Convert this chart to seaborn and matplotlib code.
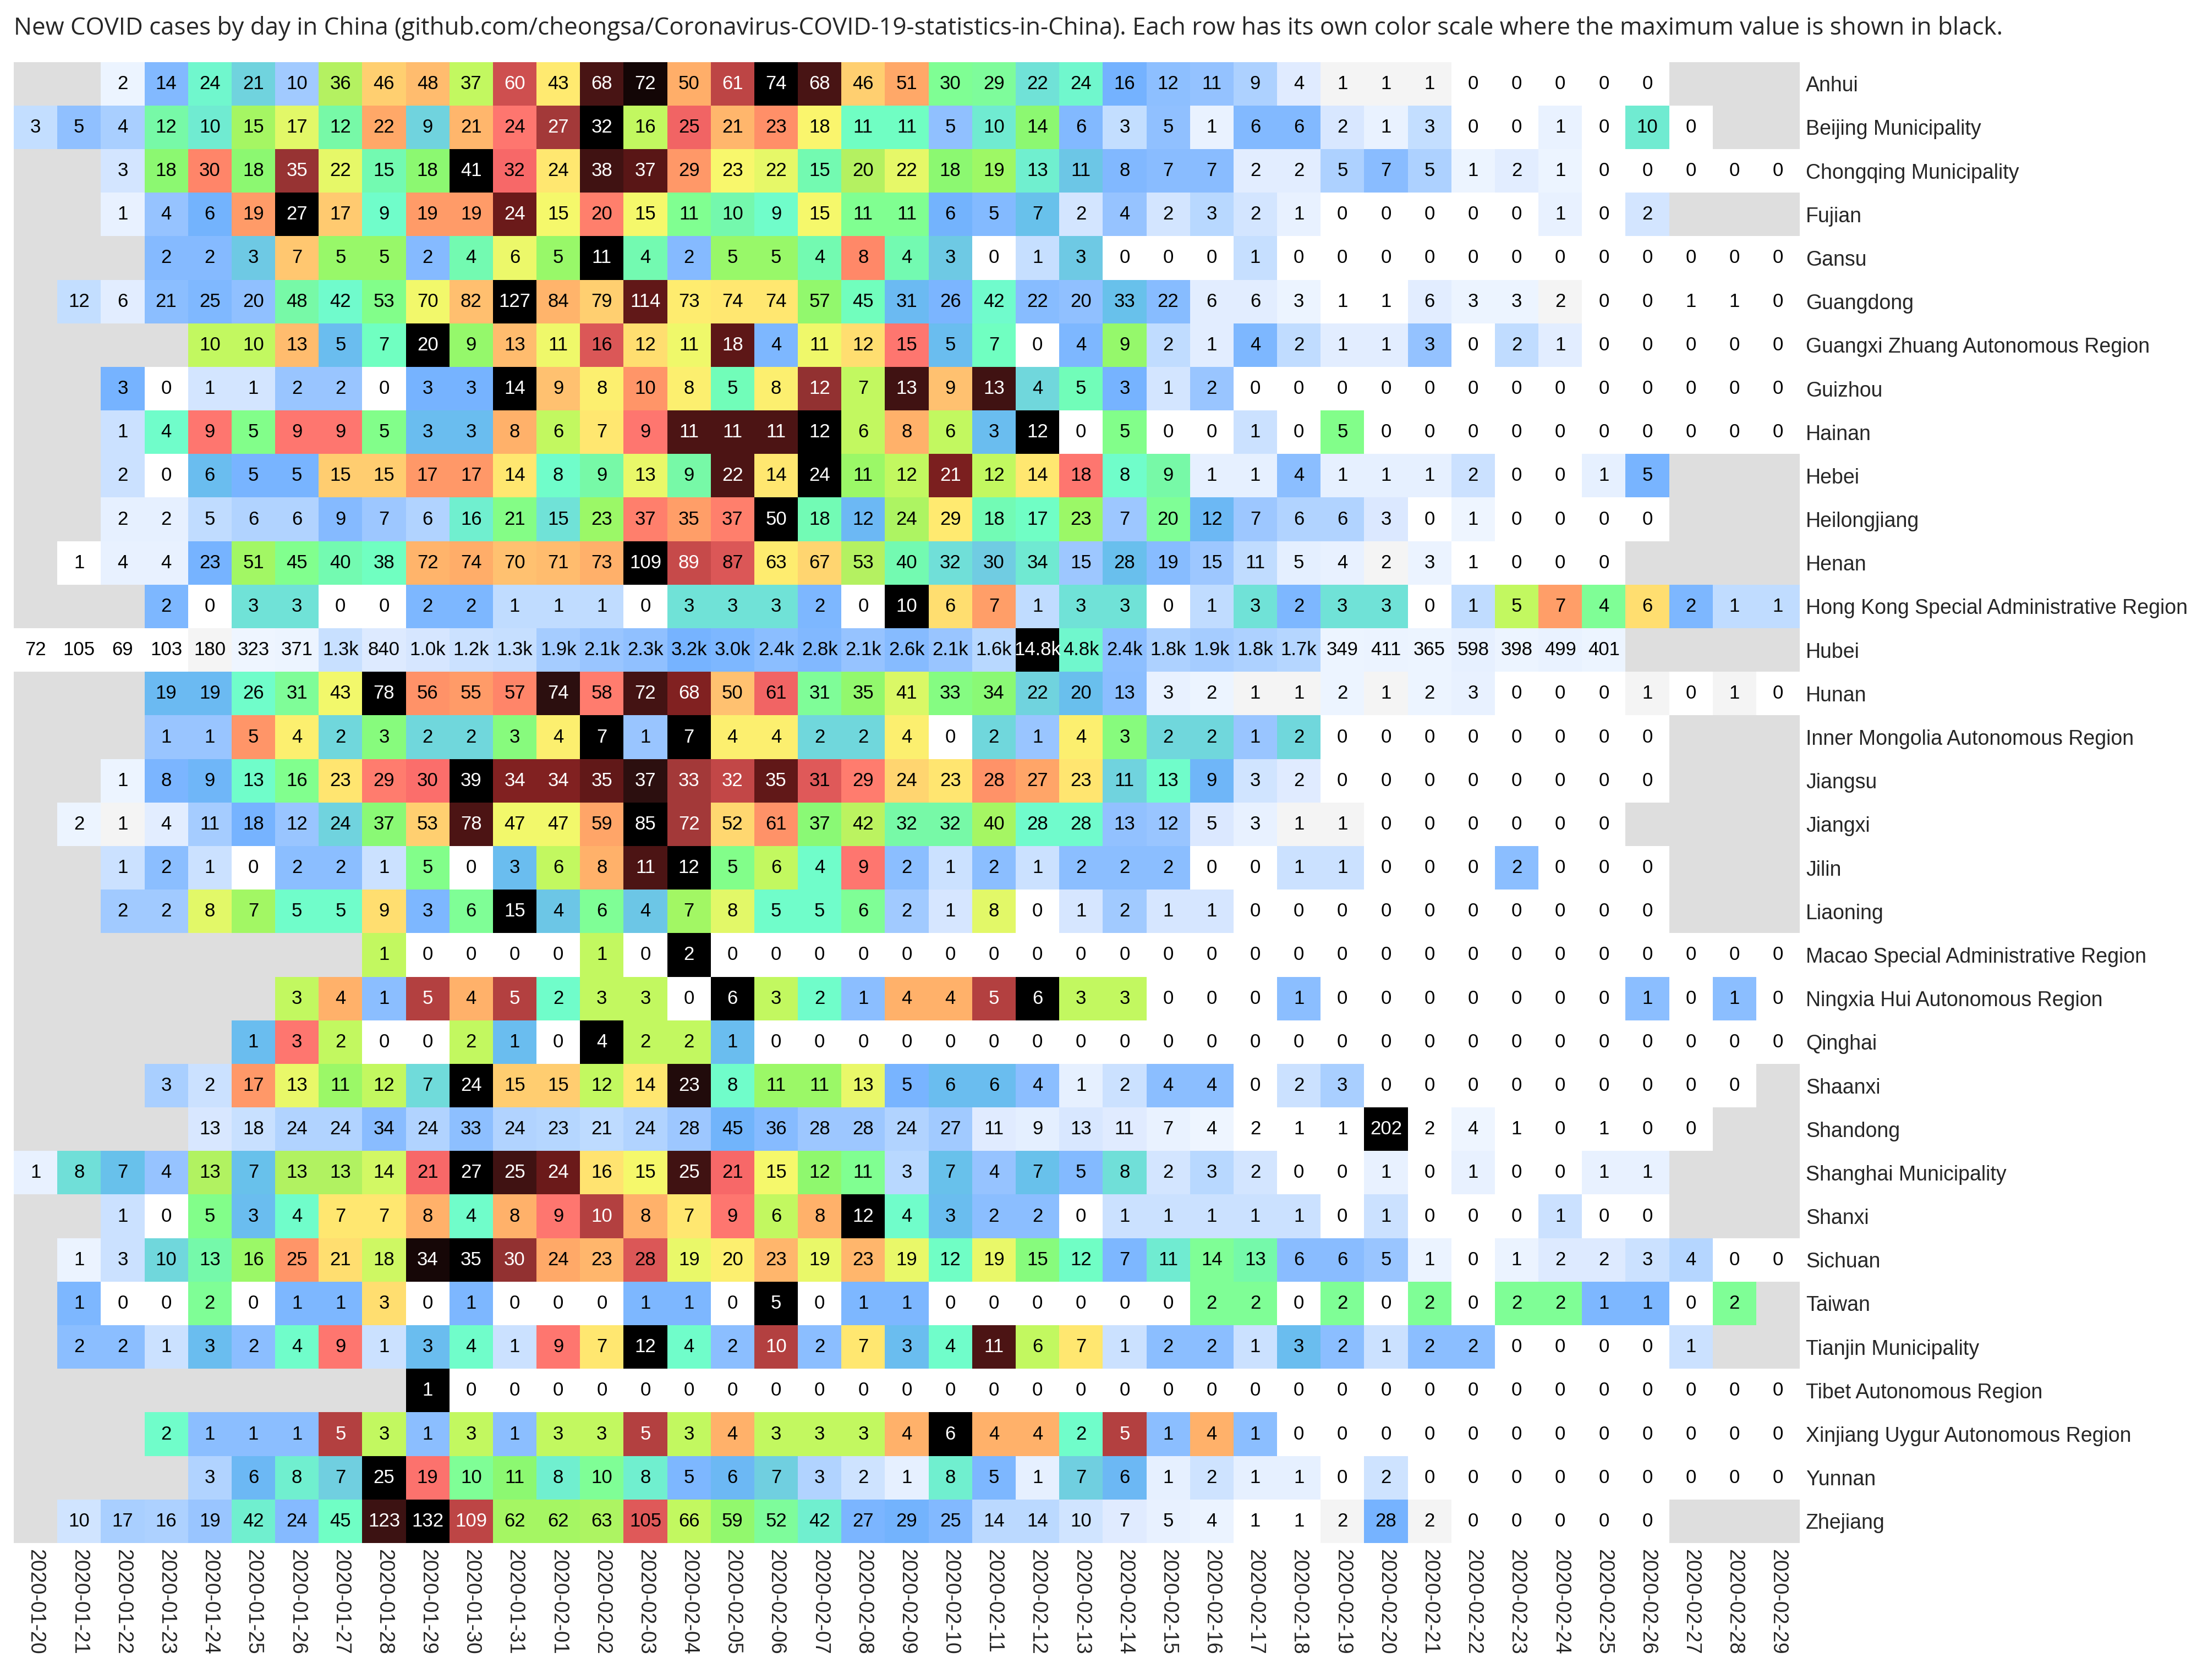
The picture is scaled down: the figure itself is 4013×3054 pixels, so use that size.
import numpy as np
import pandas as pd
import matplotlib
matplotlib.use("Agg")
import matplotlib.pyplot as plt
import seaborn as sns
from matplotlib.colors import LinearSegmentedColormap

N = None  # no report for that day

dates = [d.strftime("%Y-%m-%d") for d in pd.date_range("2020-01-20", "2020-02-29")]

provinces = [
    "Anhui", "Beijing Municipality", "Chongqing Municipality", "Fujian", "Gansu",
    "Guangdong", "Guangxi Zhuang Autonomous Region", "Guizhou", "Hainan", "Hebei",
    "Heilongjiang", "Henan", "Hong Kong Special Administrative Region", "Hubei", "Hunan",
    "Inner Mongolia Autonomous Region", "Jiangsu", "Jiangxi", "Jilin", "Liaoning",
    "Macao Special Administrative Region", "Ningxia Hui Autonomous Region", "Qinghai",
    "Shaanxi", "Shandong", "Shanghai Municipality", "Shanxi", "Sichuan", "Taiwan",
    "Tianjin Municipality", "Tibet Autonomous Region", "Xinjiang Uygur Autonomous Region",
    "Yunnan", "Zhejiang",
]

# daily new cases, 2020-01-20 .. 2020-02-29
anhui = [N, N, 2, 14, 24, 21, 10, 36, 46, 48, 37, 60, 43, 68, 72, 50, 61, 74, 68, 46, 51,
         30, 29, 22, 24, 16, 12, 11, 9, 4, 1, 1, 1, 0, 0, 0, 0, 0, N, N, N]
beijing = [3, 5, 4, 12, 10, 15, 17, 12, 22, 9, 21, 24, 27, 32, 16, 25, 21, 23, 18, 11, 11,
           5, 10, 14, 6, 3, 5, 1, 6, 6, 2, 1, 3, 0, 0, 1, 0, 10, 0, N, N]
chongqing = [N, N, 3, 18, 30, 18, 35, 22, 15, 18, 41, 32, 24, 38, 37, 29, 23, 22, 15, 20, 22,
             18, 19, 13, 11, 8, 7, 7, 2, 2, 5, 7, 5, 1, 2, 1, 0, 0, 0, 0, 0]
fujian = [N, N, 1, 4, 6, 19, 27, 17, 9, 19, 19, 24, 15, 20, 15, 11, 10, 9, 15, 11, 11,
          6, 5, 7, 2, 4, 2, 3, 2, 1, 0, 0, 0, 0, 0, 1, 0, 2, N, N, N]
gansu = [N, N, N, 2, 2, 3, 7, 5, 5, 2, 4, 6, 5, 11, 4, 2, 5, 5, 4, 8, 4,
         3, 0, 1, 3, 0, 0, 0, 1, 0, 0, 0, 0, 0, 0, 0, 0, 0, 0, 0, 0]
guangdong = [N, 12, 6, 21, 25, 20, 48, 42, 53, 70, 82, 127, 84, 79, 114, 73, 74, 74, 57, 45, 31,
             26, 42, 22, 20, 33, 22, 6, 6, 3, 1, 1, 6, 3, 3, 2, 0, 0, 1, 1, 0]
guangxi = [N, N, N, N, 10, 10, 13, 5, 7, 20, 9, 13, 11, 16, 12, 11, 18, 4, 11, 12, 15,
           5, 7, 0, 4, 9, 2, 1, 4, 2, 1, 1, 3, 0, 2, 1, 0, 0, 0, 0, 0]
guizhou = [N, N, 3, 0, 1, 1, 2, 2, 0, 3, 3, 14, 9, 8, 10, 8, 5, 8, 12, 7, 13,
           9, 13, 4, 5, 3, 1, 2, 0, 0, 0, 0, 0, 0, 0, 0, 0, 0, 0, 0, 0]
hainan = [N, N, 1, 4, 9, 5, 9, 9, 5, 3, 3, 8, 6, 7, 9, 11, 11, 11, 12, 6, 8,
          6, 3, 12, 0, 5, 0, 0, 1, 0, 5, 0, 0, 0, 0, 0, 0, 0, 0, 0, 0]
hebei = [N, N, 2, 0, 6, 5, 5, 15, 15, 17, 17, 14, 8, 9, 13, 9, 22, 14, 24, 11, 12,
         21, 12, 14, 18, 8, 9, 1, 1, 4, 1, 1, 1, 2, 0, 0, 1, 5, N, N, N]
heilongjiang = [N, N, 2, 2, 5, 6, 6, 9, 7, 6, 16, 21, 15, 23, 37, 35, 37, 50, 18, 12, 24,
                29, 18, 17, 23, 7, 20, 12, 7, 6, 6, 3, 0, 1, 0, 0, 0, 0, N, N, N]
henan = [N, 1, 4, 4, 23, 51, 45, 40, 38, 72, 74, 70, 71, 73, 109, 89, 87, 63, 67, 53, 40,
         32, 30, 34, 15, 28, 19, 15, 11, 5, 4, 2, 3, 1, 0, 0, 0, N, N, N, N]
hong_kong = [N, N, N, 2, 0, 3, 3, 0, 0, 2, 2, 1, 1, 1, 0, 3, 3, 3, 2, 0, 10,
             6, 7, 1, 3, 3, 0, 1, 3, 2, 3, 3, 0, 1, 5, 7, 4, 6, 2, 1, 1]
hubei = [72, 105, 69, 103, 180, 323, 371, 1291, 840, 1032, 1220, 1347, 1921, 2103, 2345,
         3156, 2987, 2447, 2841, 2147, 2618, 2097, 1638, 14840, 4823, 2420, 1843, 1933,
         1807, 1693, 349, 411, 365, 598, 398, 499, 401, N, N, N, N]
hunan = [N, N, N, 19, 19, 26, 31, 43, 78, 56, 55, 57, 74, 58, 72, 68, 50, 61, 31, 35, 41,
         33, 34, 22, 20, 13, 3, 2, 1, 1, 2, 1, 2, 3, 0, 0, 0, 1, 0, 1, 0]
inner_mongolia = [N, N, N, 1, 1, 5, 4, 2, 3, 2, 2, 3, 4, 7, 1, 7, 4, 4, 2, 2, 4,
                  0, 2, 1, 4, 3, 2, 2, 1, 2, 0, 0, 0, 0, 0, 0, 0, 0, N, N, N]
jiangsu = [N, N, 1, 8, 9, 13, 16, 23, 29, 30, 39, 34, 34, 35, 37, 33, 32, 35, 31, 29, 24,
           23, 28, 27, 23, 11, 13, 9, 3, 2, 0, 0, 0, 0, 0, 0, 0, 0, N, N, N]
jiangxi = [N, 2, 1, 4, 11, 18, 12, 24, 37, 53, 78, 47, 47, 59, 85, 72, 52, 61, 37, 42, 32,
           32, 40, 28, 28, 13, 12, 5, 3, 1, 1, 0, 0, 0, 0, 0, 0, N, N, N, N]
jilin = [N, N, 1, 2, 1, 0, 2, 2, 1, 5, 0, 3, 6, 8, 11, 12, 5, 6, 4, 9, 2,
         1, 2, 1, 2, 2, 2, 0, 0, 1, 1, 0, 0, 0, 2, 0, 0, 0, N, N, N]
liaoning = [N, N, 2, 2, 8, 7, 5, 5, 9, 3, 6, 15, 4, 6, 4, 7, 8, 5, 5, 6, 2,
            1, 8, 0, 1, 2, 1, 1, 0, 0, 0, 0, 0, 0, 0, 0, 0, 0, N, N, N]
macao = [N, N, N, N, N, N, N, N, 1, 0, 0, 0, 0, 1, 0, 2, 0, 0, 0, 0, 0,
         0, 0, 0, 0, 0, 0, 0, 0, 0, 0, 0, 0, 0, 0, 0, 0, 0, 0, 0, 0]
ningxia = [N, N, N, N, N, N, 3, 4, 1, 5, 4, 5, 2, 3, 3, 0, 6, 3, 2, 1, 4,
           4, 5, 6, 3, 3, 0, 0, 0, 1, 0, 0, 0, 0, 0, 0, 0, 1, 0, 1, 0]
qinghai = [N, N, N, N, N, 1, 3, 2, 0, 0, 2, 1, 0, 4, 2, 2, 1, 0, 0, 0, 0,
           0, 0, 0, 0, 0, 0, 0, 0, 0, 0, 0, 0, 0, 0, 0, 0, 0, 0, 0, 0]
shaanxi = [N, N, N, 3, 2, 17, 13, 11, 12, 7, 24, 15, 15, 12, 14, 23, 8, 11, 11, 13, 5,
           6, 6, 4, 1, 2, 4, 4, 0, 2, 3, 0, 0, 0, 0, 0, 0, 0, 0, 0, N]
shandong = [N, N, N, N, 13, 18, 24, 24, 34, 24, 33, 24, 23, 21, 24, 28, 45, 36, 28, 28, 24,
            27, 11, 9, 13, 11, 7, 4, 2, 1, 1, 202, 2, 4, 1, 0, 1, 0, 0, N, N]
shanghai = [1, 8, 7, 4, 13, 7, 13, 13, 14, 21, 27, 25, 24, 16, 15, 25, 21, 15, 12, 11, 3,
            7, 4, 7, 5, 8, 2, 3, 2, 0, 0, 1, 0, 1, 0, 0, 1, 1, N, N, N]
shanxi = [N, N, 1, 0, 5, 3, 4, 7, 7, 8, 4, 8, 9, 10, 8, 7, 9, 6, 8, 12, 4,
          3, 2, 2, 0, 1, 1, 1, 1, 1, 0, 1, 0, 0, 0, 1, 0, 0, N, N, N]
sichuan = [N, 1, 3, 10, 13, 16, 25, 21, 18, 34, 35, 30, 24, 23, 28, 19, 20, 23, 19, 23, 19,
           12, 19, 15, 12, 7, 11, 14, 13, 6, 6, 5, 1, 0, 1, 2, 2, 3, 4, 0, 0]
taiwan = [N, 1, 0, 0, 2, 0, 1, 1, 3, 0, 1, 0, 0, 0, 1, 1, 0, 5, 0, 1, 1,
          0, 0, 0, 0, 0, 0, 2, 2, 0, 2, 0, 2, 0, 2, 2, 1, 1, 0, 2, N]
tianjin = [N, 2, 2, 1, 3, 2, 4, 9, 1, 3, 4, 1, 9, 7, 12, 4, 2, 10, 2, 7, 3,
           4, 11, 6, 7, 1, 2, 2, 1, 3, 2, 1, 2, 2, 0, 0, 0, 0, 1, N, N]
tibet = [N, N, N, N, N, N, N, N, N, 1, 0, 0, 0, 0, 0, 0, 0, 0, 0, 0, 0,
         0, 0, 0, 0, 0, 0, 0, 0, 0, 0, 0, 0, 0, 0, 0, 0, 0, 0, 0, 0]
xinjiang = [N, N, N, 2, 1, 1, 1, 5, 3, 1, 3, 1, 3, 3, 5, 3, 4, 3, 3, 3, 4,
            6, 4, 4, 2, 5, 1, 4, 1, 0, 0, 0, 0, 0, 0, 0, 0, 0, 0, 0, 0]
yunnan = [N, N, N, N, 3, 6, 8, 7, 25, 19, 10, 11, 8, 10, 8, 5, 6, 7, 3, 2, 1,
          8, 5, 1, 7, 6, 1, 2, 1, 1, 0, 2, 0, 0, 0, 0, 0, 0, 0, 0, 0]
zhejiang = [N, 10, 17, 16, 19, 42, 24, 45, 123, 132, 109, 62, 62, 63, 105, 66, 59, 52, 42, 27, 29,
            25, 14, 14, 10, 7, 5, 4, 1, 1, 2, 28, 2, 0, 0, 0, 0, 0, N, N, N]

rows = [anhui, beijing, chongqing, fujian, gansu, guangdong, guangxi, guizhou, hainan, hebei,
        heilongjiang, henan, hong_kong, hubei, hunan, inner_mongolia, jiangsu, jiangxi, jilin,
        liaoning, macao, ningxia, qinghai, shaanxi, shandong, shanghai, shanxi, sichuan, taiwan,
        tianjin, tibet, xinjiang, yunnan, zhejiang]

title = ("New COVID cases by day in China (github.com/cheongsa/Coronavirus-COVID-19-statistics-in-China). "
         "Each row has its own color scale where the maximum value is shown in black.")

# white -> blues -> aqua -> green -> yellow -> orange -> red -> black
cmap = LinearSegmentedColormap.from_list("row_scale", [
    (0.0, "#ffffff"), (0.0095, "#ffffff"), (0.0100, "#f4f4f4"), (0.019, "#f4f4f4"),
    (0.0195, "#eef5ff"), (0.04, "#e6f0ff"), (0.057, "#dce9ff"), (0.087, "#c8e0ff"),
    (0.11, "#b8d8ff"), (0.125, "#aacfff"), (0.142, "#98c4ff"), (0.17, "#88bcff"),
    (0.195, "#80b8ff"), (0.215, "#74b2ff"), (0.24, "#6cb8f4"), (0.26, "#68c2ea"),
    (0.275, "#70cce2"), (0.295, "#70e0d8"), (0.315, "#70ecd0"), (0.33, "#70fccc"),
    (0.35, "#70ffc0"), (0.37, "#74f8ac"), (0.39, "#7efc9c"), (0.41, "#80ff90"),
    (0.44, "#8cf870"), (0.465, "#a0f864"), (0.49, "#b8f060"), (0.50, "#c0f860"),
    (0.535, "#e4f868"), (0.56, "#f8f86c"), (0.58, "#ffea70"), (0.62, "#ffd270"),
    (0.645, "#ffc070"), (0.665, "#ffb26a"), (0.69, "#ffa868"), (0.71, "#ff9868"),
    (0.73, "#ff8868"), (0.75, "#ff7870"), (0.78, "#f86868"), (0.795, "#e05a5a"),
    (0.81, "#d05050"), (0.825, "#c04646"), (0.845, "#a63a3a"), (0.86, "#903030"),
    (0.875, "#802020"), (0.895, "#641818"), (0.92, "#4a1414"), (0.945, "#301010"),
    (0.97, "#180808"), (1.0, "#000000"),
])

counts = pd.DataFrame(np.array(rows, dtype=float), index=provinces, columns=dates)
scaled = counts.div(counts.max(axis=1), axis=0)


def fmt_count(v):
    if np.isnan(v):
        return ""
    if v >= 1000:
        return f"{v / 1000:.1f}k"
    return f"{int(v)}"


labels = np.vectorize(fmt_count)(counts.values)

sns.set_style("white")
plt.rcParams["font.family"] = ["Liberation Sans", "DejaVu Sans"]

fig = plt.figure(figsize=(20.065, 15.27), dpi=200)
ax = fig.add_axes([0.00623, 0.08153, 0.8089, 0.8816])
ax.set_facecolor("#dedede")

sns.heatmap(scaled, cmap=cmap, vmin=0, vmax=1, annot=labels, fmt="", cbar=False, ax=ax,
            annot_kws={"fontsize": 12.5})

# dark cells get white numbers
for t in ax.texts:
    x, y = t.get_position()
    t.set_color("white" if scaled.iat[int(y), int(x)] > 0.805 else "black")

ax.yaxis.tick_right()
ax.set_yticklabels(provinces, rotation=0, fontsize=13.5)
ax.set_xticklabels(dates, rotation=270, fontsize=13.5)
ax.tick_params(length=0, pad=4)
ax.set_xlabel("")
ax.set_ylabel("")

fig.text(0.0062, 0.983, title, fontsize=15.8, family=["Open Sans", "DejaVu Sans"],
         ha="left", va="center")

fig.savefig("out.png", dpi=200)
